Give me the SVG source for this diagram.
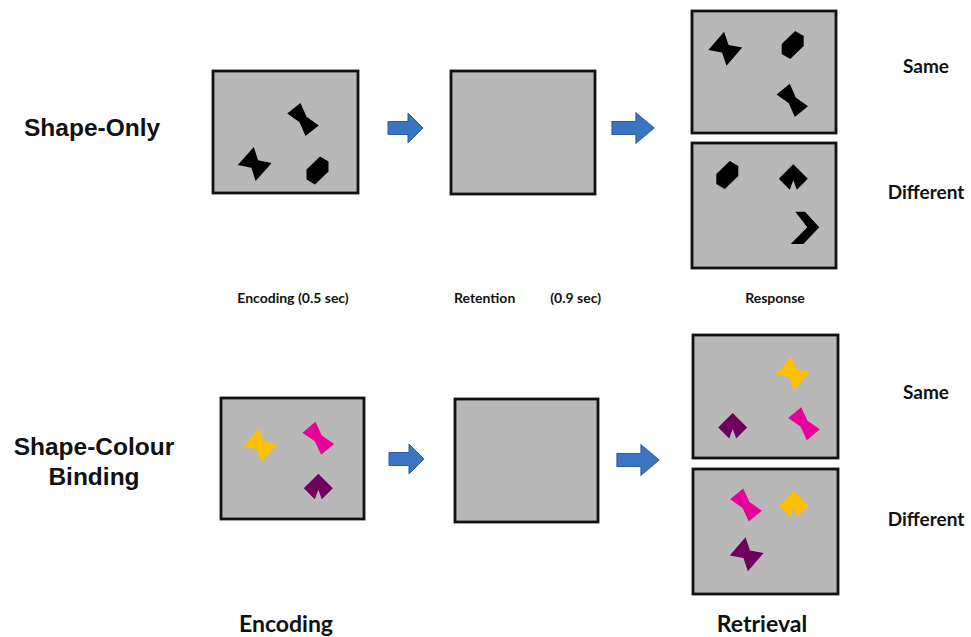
<svg xmlns="http://www.w3.org/2000/svg" xmlns:xlink="http://www.w3.org/1999/xlink" width="971" height="637" viewBox="0 0 971 637">
<style>
.panel{fill:#b8b8b8;stroke:#111;stroke-width:2.8}
.arrow{fill:#3b74c2;stroke:#2b5d9e;stroke-width:1}
.big{font-family:"Liberation Sans",Arial,sans-serif;font-weight:bold;font-size:24.5px;fill:#111}
.lab{font-family:Lato,"Liberation Sans",sans-serif;font-weight:bold;fill:#111}
.k{fill:#000}.y{fill:#ffc000}.m{fill:#e8009b}.p{fill:#6e005e}
</style>
<defs>
<polygon id="hourglass" points="-8.5,-14.5 8.5,-14.5 4.5,0 8.5,14.5 -8.5,14.5 -4.5,0"/>
<polygon id="bowtie" points="-12,-12 12,-12 5,0 12,12 -12,12 -5,0"/>
<polygon id="hex" points="-11,-1 2.5,-14 11,-9 11,1 -2.5,14 -11,9"/>
<polygon id="notch" points="0,-13 14.5,1.5 3.5,12.5 0,3 -3.5,12.5 -14.5,1.5"/>
<polygon id="arr" points="0,-6.5 20,-6.5 20,-15 35,0 20,15 20,6.5 0,6.5"/>
</defs>

<g id="label-shape-only"><text class="big" x="24" y="136">Shape-Only</text></g>
<g id="label-shape-colour"><text class="big" x="94" y="455" text-anchor="middle">Shape-Colour</text><text class="big" x="94" y="485" text-anchor="middle">Binding</text></g>

<g id="top-encoding">
<rect class="panel" x="213" y="71" width="145" height="122"/>
<use href="#hourglass" class="k" transform="translate(303,119.5) rotate(-39)"/>
<use href="#bowtie" class="k" transform="translate(254.7,164) rotate(-48)"/>
<use href="#hex" class="k" transform="translate(317.5,170.5)"/>
</g>
<g id="top-retention"><rect class="panel" x="451" y="71" width="144" height="123"/></g>
<g id="top-same">
<rect class="panel" x="692" y="11" width="144" height="122"/>
<use href="#bowtie" class="k" transform="translate(725.3,48.7) rotate(-49)"/>
<use href="#hex" class="k" transform="translate(792.7,45)"/>
<use href="#hourglass" class="k" transform="translate(792.3,100.3) rotate(-39)"/>
</g>
<g id="top-different">
<rect class="panel" x="692" y="143" width="144" height="125"/>
<use href="#hex" class="k" transform="translate(727.3,175)"/>
<use href="#notch" class="k" transform="translate(793.3,177.3)"/>
<polygon class="k" points="795.3,211.7 805,211.7 819.3,227.3 803.3,244 790.7,244 807.3,227.3"/>
</g>

<g id="bottom-encoding">
<rect class="panel" x="221" y="398" width="143" height="121"/>
<use href="#bowtie" class="y" transform="translate(260.3,445.3) rotate(-49)"/>
<use href="#hourglass" class="m" transform="translate(318.3,438.3) rotate(-40)"/>
<use href="#notch" class="p" transform="translate(318.3,486.7)"/>
</g>
<g id="bottom-retention"><rect class="panel" x="455" y="399" width="143" height="123"/></g>
<g id="bottom-same">
<rect class="panel" x="693" y="335" width="145" height="123"/>
<use href="#bowtie" class="y" transform="translate(792.7,373.3) rotate(-49)"/>
<use href="#notch" class="p" transform="translate(732.7,426)"/>
<use href="#hourglass" class="m" transform="translate(804,423.7) rotate(-40)"/>
</g>
<g id="bottom-different">
<rect class="panel" x="693" y="469" width="145" height="125"/>
<use href="#hourglass" class="m" transform="translate(746,505) rotate(-40)"/>
<use href="#notch" class="y" transform="translate(793.7,504.3)"/>
<use href="#bowtie" class="p" transform="translate(746.7,554.3) rotate(-49)"/>
</g>

<g id="connectors">
<use href="#arr" class="arrow" transform="translate(388,128)"/>
<use href="#arr" class="arrow" transform="translate(612,128) scale(1.2,1)"/>
<use href="#arr" class="arrow" transform="translate(389,459)"/>
<use href="#arr" class="arrow" transform="translate(617,460) scale(1.2,1)"/>
</g>

<g id="labels">
<text class="lab" font-size="19" x="926" y="73" text-anchor="middle">Same</text>
<text class="lab" font-size="19" x="926" y="199" text-anchor="middle">Different</text>
<text class="lab" font-size="19" x="926" y="399" text-anchor="middle">Same</text>
<text class="lab" font-size="19" x="926" y="526" text-anchor="middle">Different</text>
<text class="lab" font-size="14" x="293" y="303" text-anchor="middle">Encoding (0.5 sec)</text>
<text class="lab" font-size="14" y="303" xml:space="preserve"><tspan x="454">Retention</tspan><tspan x="601" text-anchor="end">(0.9 sec)</tspan></text>
<text class="lab" font-size="14" x="775" y="303" text-anchor="middle">Response</text>
<text class="lab" font-size="23" x="286" y="632" text-anchor="middle">Encoding</text>
<text class="lab" font-size="23" x="762" y="632" text-anchor="middle">Retrieval</text>
</g>
</svg>
